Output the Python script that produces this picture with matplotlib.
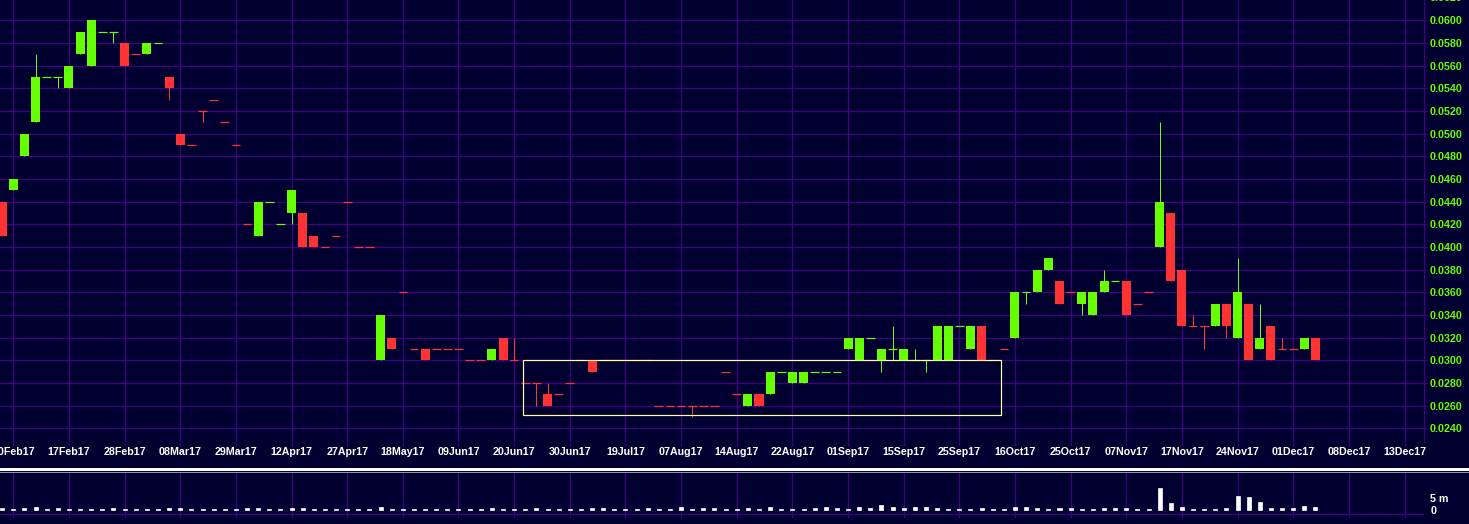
import matplotlib
matplotlib.use('Agg')
import matplotlib.pyplot as plt
import numpy as np
from matplotlib.patches import Rectangle
from matplotlib.lines import Line2D

# Daily prices in tenths of a cent (divided by 1000 below).
# The first candle is cut off at the left edge of the chart.
opens = [44, 45, 48, 51, 55, 55, 54, 57, 56, 59,
         59, 58, 57, 57, 58, 55, 50, 49, 52, 53,
         51, 49, 42, 41, 44, 42, 43, 43, 41, 40,
         41, 44, 40, 40, 30, 32, 36, 31, 31, 31,
         31, 31, 30, 30, 30, 32, 30, 28, 28, 27,
         27, 28, 30, 30, 30, 30, 30, 30, 30, 26,
         26, 26, 26, 26, 26, 29, 27, 26, 27, 27,
         29, 28, 28, 29, 29, 29, 31, 30, 32, 30,
         31, 30, 30, 30, 30, 30, 33, 31, 33, 30,
         31, 32, 36, 36, 38, 37, 36, 35, 34, 36,
         37, 37, 35, 36, 40, 43, 38, 33, 33, 33,
         35, 32, 35, 31, 33, 31, 31, 31, 32]
highs = [44, 46, 50, 57, 55, 55, 56, 59, 60, 59,
         59, 58, 57, 58, 58, 55, 50, 49, 52, 53,
         51, 49, 42, 44, 44, 42, 45, 43, 41, 40,
         41, 44, 40, 40, 34, 32, 36, 31, 31, 31,
         31, 31, 30, 30, 31, 32, 32, 28, 28, 28,
         27, 28, 30, 30, 30, 30, 30, 30, 30, 26,
         26, 26, 26, 26, 26, 29, 27, 27, 27, 29,
         29, 29, 29, 29, 29, 29, 32, 32, 32, 31,
         33, 31, 31, 30, 33, 33, 33, 33, 33, 30,
         31, 36, 36, 38, 39, 37, 36, 36, 36, 38,
         37, 37, 35, 36, 51, 43, 38, 34, 33, 35,
         35, 39, 35, 35, 33, 32, 31, 32, 32]
lows = [41, 45, 48, 51, 55, 54, 54, 57, 56, 59,
        58, 56, 57, 57, 58, 53, 49, 49, 51, 53,
        51, 49, 42, 41, 44, 42, 42, 40, 40, 40,
        41, 44, 40, 40, 30, 31, 36, 31, 30, 31,
        31, 31, 30, 30, 30, 30, 30, 28, 26, 26,
        27, 28, 30, 29, 30, 30, 30, 30, 30, 26,
        26, 26, 25, 26, 26, 29, 27, 26, 26, 27,
        29, 28, 28, 29, 29, 29, 31, 30, 32, 29,
        30, 30, 30, 29, 30, 30, 33, 31, 30, 30,
        31, 32, 35, 36, 38, 35, 36, 34, 34, 36,
        37, 34, 35, 36, 40, 37, 33, 33, 31, 33,
        32, 32, 30, 31, 30, 31, 31, 31, 30]
closes = [41, 46, 50, 55, 55, 55, 56, 59, 60, 59,
          59, 56, 57, 58, 58, 54, 49, 49, 52, 53,
          51, 49, 42, 44, 44, 42, 45, 40, 40, 40,
          41, 44, 40, 40, 34, 31, 36, 31, 30, 31,
          31, 31, 30, 30, 31, 30, 30, 28, 28, 26,
          27, 28, 30, 29, 30, 30, 30, 30, 30, 26,
          26, 26, 26, 26, 26, 29, 27, 27, 26, 29,
          29, 29, 29, 29, 29, 29, 32, 32, 32, 31,
          31, 31, 30, 30, 33, 33, 33, 33, 30, 30,
          31, 36, 36, 38, 39, 35, 36, 36, 36, 37,
          37, 34, 35, 36, 44, 37, 33, 33, 33, 35,
          33, 36, 30, 32, 30, 31, 31, 32, 30]
# volume in millions of shares
volumes = [0.7, 0.3, 0.7, 1.3, 0.3, 0.7, 0.3, 0.3, 0.3, 0.3,
           0.7, 0.3, 0.3, 0.3, 0.3, 0.7, 0.7, 0.3, 0.3, 0.3,
           0.3, 0.3, 0.7, 0.7, 0.3, 0.3, 0.7, 0.7, 0.3, 0.3,
           0.3, 0.3, 0.3, 0.3, 1.1, 0.3, 0.3, 0.3, 0.3, 0.3,
           0.3, 0.3, 0.3, 0.3, 0.7, 0.3, 0.3, 0.3, 0.7, 0.3,
           0.3, 0.3, 0.3, 0.7, 0.7, 0.3, 0.3, 0.3, 0.7, 0.3,
           0.3, 1.1, 0.3, 0.7, 0.7, 0.3, 0.3, 0.7, 0.3, 1.1,
           0.3, 0.3, 0.3, 0.7, 1.1, 0.7, 0.3, 1.1, 0.7, 2.1,
           1.3, 0.7, 1.1, 1.1, 0.7, 0.3, 0.3, 0.3, 0.7, 0.3,
           0.3, 1.3, 1.1, 0.7, 0.3, 0.7, 0.7, 0.3, 0.3, 0.7,
           0.7, 0.7, 0.3, 0.3, 9.3, 3.1, 1.4, 0.3, 0.3, 0.3,
           1.0, 6.1, 5.7, 3.6, 1.0, 1.0, 1.0, 1.9, 1.4]
date_labels = ['10Feb17', '17Feb17', '28Feb17', '08Mar17', '29Mar17', '12Apr17',
               '27Apr17', '18May17', '09Jun17', '20Jun17', '30Jun17', '19Jul17',
               '07Aug17', '14Aug17', '22Aug17', '01Sep17', '15Sep17', '25Sep17',
               '16Oct17', '25Oct17', '07Nov17', '17Nov17', '24Nov17', '01Dec17',
               '08Dec17', '13Dec17']
price_ticks = [0.024, 0.026, 0.028, 0.030, 0.032, 0.034, 0.036, 0.038, 0.040, 0.042,
               0.044, 0.046, 0.048, 0.050, 0.052, 0.054, 0.056, 0.058, 0.060]
# highlighted consolidation range (trading-day index / price)
box_days = (46.8, 89.7)
box_prices = (0.0252, 0.0300)

BG = '#000030'
GRID = '#40007f'
GREEN = '#66ff00'
RED = '#ff3333'
FONT = 'Liberation Sans'

o = np.array(opens) / 1000
h = np.array(highs) / 1000
l = np.array(lows) / 1000
c = np.array(closes) / 1000
x = np.arange(len(o))

fig = plt.figure(figsize=(14.69, 5.24), dpi=100, facecolor=BG)
ax = fig.add_axes([0, 1 - 441.7 / 524, 1424 / 1469, 441.7 / 524], facecolor=BG)
axv = fig.add_axes([0, 1 - 518.3 / 524, 1424 / 1469, 46.6 / 524], facecolor=BG)

# candles: flat days keep the colour of the previous candle
colors = []
prev = RED
for oi, ci in zip(o, c):
    if ci > oi:
        prev = GREEN
    elif ci < oi:
        prev = RED
    colors.append(prev)

px = 72 / 100
for xi, oi, hi, li, ci, col in zip(x, o, h, l, c, colors):
    if hi > li:
        ax.vlines(xi, li, hi, color=col, lw=1 * px, zorder=3)
    if ci != oi:
        ax.bar(xi, abs(ci - oi), bottom=min(oi, ci), width=0.81, color=col,
               lw=0, zorder=4)
    else:
        ax.hlines(oi, xi - 0.39, xi + 0.39, color=col, lw=1.2 * px, zorder=4)

ax.add_patch(Rectangle((box_days[0], box_prices[0]), box_days[1] - box_days[0],
                       box_prices[1] - box_prices[0], fill=False,
                       edgecolor='#ffffa0', lw=1.2 * px, zorder=5))

label_pos = np.arange(len(date_labels)) * 5 + 1
xlim = (-0.195, 127.75)

for a in (ax, axv):
    a.set_xlim(*xlim)
    a.set_xticks(label_pos)
    a.grid(True, axis='x', color=GRID, lw=1.3 * px)
    for s in a.spines.values():
        s.set_visible(False)
    a.set_axisbelow(True)

ax.set_ylim(0.02282, 0.06179)
ax.set_yticks(price_ticks)
ax.set_yticklabels(['%.4f' % t for t in price_ticks])
ax.grid(True, axis='y', color=GRID, lw=1.3 * px)
ax.yaxis.tick_right()
ax.spines['right'].set_visible(True)
ax.spines['right'].set_color(GRID)
ax.spines['right'].set_linewidth(1.3 * px)
ax.tick_params(axis='y', colors=GRID, labelcolor=GREEN, length=2.2, width=1.3 * px,
               pad=2.2, labelsize=7.7)
ax.tick_params(axis='x', colors=GRID, labelcolor='white', length=2.6, width=1.3 * px,
               pad=1.2, labelsize=7.7)
ax.set_xticklabels(date_labels)
for t in ax.get_xticklabels() + ax.get_yticklabels():
    t.set_fontfamily(FONT)
    t.set_fontweight('bold')
ax.text(1.0042, 0.062, '0.0620', transform=ax.get_yaxis_transform(), color=GREEN,
        fontsize=7.7, fontfamily=FONT, fontweight='bold', va='center', ha='left',
        clip_on=False)

# volume panel
axv.bar(x, volumes, width=0.36, color='white', edgecolor='white', lw=0.5, zorder=3)
axv.set_ylim(-3.56, 16.42)
axv.set_yticks([0, 5])
axv.set_yticklabels(['0', '5 m'])
axv.set_yticks([-1.7, 5], minor=True)
axv.grid(True, axis='y', which='minor', color=GRID, lw=1.3 * px)
axv.yaxis.tick_right()
axv.tick_params(axis='y', which='both', length=0, pad=4.5, labelcolor='white',
                labelsize=7.7)
axv.tick_params(axis='x', length=0, labelbottom=False)
for t in axv.get_yticklabels():
    t.set_fontfamily(FONT)
    t.set_fontweight('bold')

# separator between price and volume panels
fig.add_artist(Line2D([0, 1], [1 - 469 / 524] * 2, color='white', lw=3 * px))
fig.add_artist(Line2D([0, 1], [1 - 471.5 / 524] * 2, color='#9090b0', lw=1 * px))

fig.savefig('out.png', dpi=100, facecolor=BG)
